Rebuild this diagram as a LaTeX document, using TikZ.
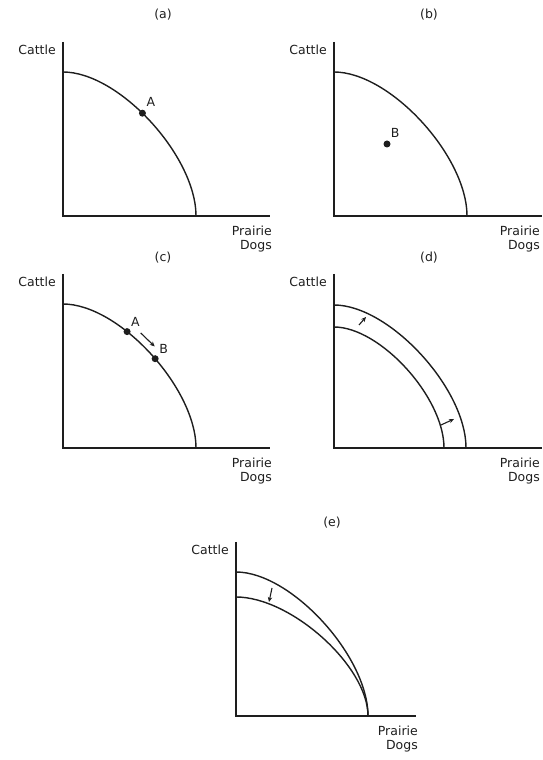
\documentclass[tikz,border=0pt]{standalone}
\usepackage{fontspec}
\setmainfont{DejaVu Sans}
\usetikzlibrary{arrows.meta,positioning,calc}
\definecolor{ink}{HTML}{1E1E1E}
\tikzset{
  axis/.style={line width=2.2pt,color=ink},
  ppf/.style={line width=1.4pt,color=ink},
  dot/.style={circle,fill=ink,minimum size=7pt,inner sep=0pt},
  lbl/.style={font=\fontsize{12.5}{14}\selectfont,text=ink,inner sep=0pt},
  ttl/.style={lbl},
  ylbl/.style={lbl,anchor=east},
  xlbl/.style={lbl,anchor=north east,align=right},
  shiftarrow/.style={-{Stealth[length=5pt,width=4.5pt]},line width=1.1pt,color=ink},
}

\begin{document}
\begin{tikzpicture}[x=1pt,y=1pt]
  \useasboundingbox (0,0) rectangle (542,760);
  \foreach \ox/\oy/\len/\lx/\tx/\ty/\t in {
    63/544/207/209/163/745/a,
    334/544/208/206/429/745/b,
    63/312/207/209/163/502/c,
    334/312/208/206/429/502/d,
    236/44/180/182/332/237/e} {
    \begin{scope}[shift={(\ox,\oy)}]
      \draw[axis] (0,174) -- (0,0) -- (\len,0);
      \node[ylbl] (cattle\t) at (-7,166) {Cattle};
      \node[xlbl] (dogs\t) at (\lx,-10) {Prairie\\Dogs};
    \end{scope}
    \node[ttl] (title\t) at (\tx,\ty) {(\t)};
  }

  % (a) a point on the frontier
  \begin{scope}[shift={(63,544)}]
    \draw[ppf] (0,144) .. controls (56,144) and (133,60) .. (133,0)
      node[dot,pos=0.45] (Aa) {};
    \node[lbl,above right=4pt and 1pt of Aa] (Aalab) {A};
  \end{scope}

  % (b) a point inside
  \begin{scope}[shift={(334,544)}]
    \draw[ppf] (0,144) .. controls (56,144) and (133,60) .. (133,0);
    \node[dot] (Bb) at (53,72) {};
    \node[lbl,above right=4pt and 1pt of Bb] (Bblab) {B};
  \end{scope}

  % (c) moving along the frontier
  \begin{scope}[shift={(63,312)}]
    \draw[ppf] (0,144) .. controls (56,144) and (133,60) .. (133,0)
      node[dot,pos=0.36] (Ac) {}
      node[dot,pos=0.53] (Bc) {};
    \node[lbl,above right=2pt and 1pt of Ac] (Aclab) {A};
    \node[lbl,above right=2pt and 1pt of Bc] (Bclab) {B};
    \draw[shiftarrow] ($(Ac)!0.27!(Bc)+(6,6)$) -- ($(Ac)!0.77!(Bc)+(6,6)$);
  \end{scope}

  % (d) outward shift
  \begin{scope}[shift={(334,312)}]
    \draw[ppf] (0,143) .. controls (55,143) and (132,60) .. (132,0);
    \draw[ppf] (0,121) .. controls (46,121) and (110,51) .. (110,0);
    \coordinate (d1) at (25,123);
    \coordinate (d2) at (32,131);
    \coordinate (d3) at (107,23);
    \coordinate (d4) at (120,29);
    \draw[shiftarrow] (d1) -- (d2);
    \draw[shiftarrow] (d3) -- (d4);
  \end{scope}

  % (e) cattle side falls
  \begin{scope}[shift={(236,44)}]
    \draw[ppf] (0,144) .. controls (55,144) and (132,60) .. (132,0);
    \draw[ppf] (0,119) .. controls (55,119) and (132,50) .. (132,0);
    \coordinate (e1) at (36,128);
    \coordinate (e2) at (33,114);
    \draw[shiftarrow] (e1) -- (e2);
  \end{scope}
\end{tikzpicture}
\end{document}
